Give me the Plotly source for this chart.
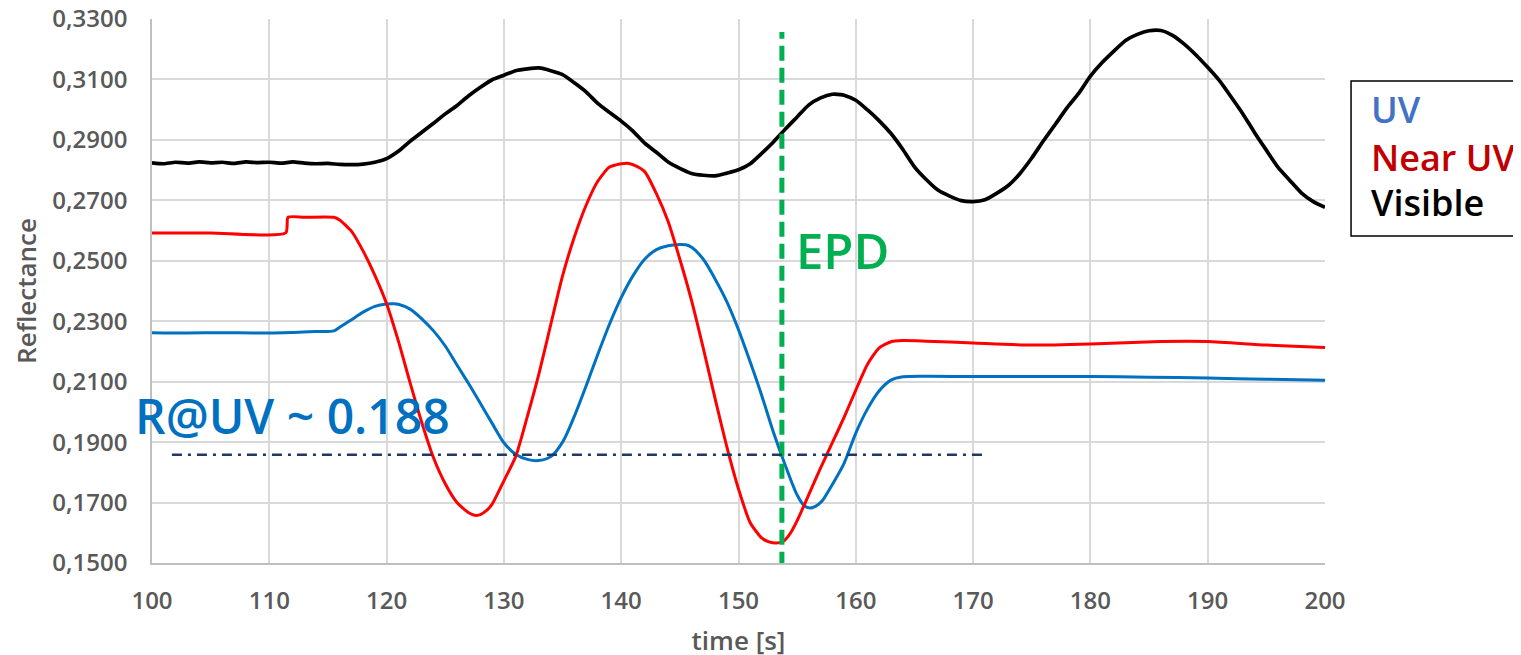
import plotly.graph_objects as go

# ---------------- data ----------------
uv_t = [100, 103, 106, 109, 112, 114, 115.5, 116, 117, 118, 119, 120, 120.6, 121,
        122, 123, 124, 125, 126, 127, 128, 129, 130, 131, 132, 132.9, 134, 135,
        136, 137, 138, 139, 140, 141, 142, 143, 144, 145, 145.5, 146, 147, 148,
        149, 150, 151, 152, 153, 154, 155, 155.6, 156.1, 156.6, 157.1, 158, 159,
        160, 161, 162, 163, 164, 166, 170, 175, 180, 185, 190, 195, 200]
uv_r = [0.2262, 0.2261, 0.2262, 0.2261, 0.2263, 0.2266, 0.2268, 0.2280, 0.2305,
        0.2330, 0.2349, 0.2357, 0.2358, 0.2356, 0.2340, 0.2308, 0.2268, 0.2218,
        0.2155, 0.2093, 0.2028, 0.1962, 0.1898, 0.1860, 0.1843, 0.1839, 0.1852,
        0.1900, 0.1985, 0.2085, 0.2190, 0.2290, 0.2378, 0.2450, 0.2505, 0.2537,
        0.2550, 0.2554, 0.2553, 0.2545, 0.2505, 0.2440, 0.2365, 0.2272, 0.2165,
        0.2052, 0.1930, 0.1822, 0.1725, 0.1690, 0.1682, 0.1688, 0.1704, 0.1760,
        0.1830, 0.1930, 0.2010, 0.2070, 0.2105, 0.2116, 0.2118, 0.2117, 0.2117,
        0.2117, 0.2115, 0.2112, 0.2108, 0.2105]

nuv_t = [100, 105, 111.4, 111.6, 113, 115.5, 116, 117, 118, 119, 120, 121, 122,
         123, 124, 125, 126, 127, 127.5, 128, 128.5, 129, 130, 131, 132, 133, 134,
         135, 136, 137, 138, 139, 140, 140.5, 141, 142, 143, 144, 145, 146, 147,
         148, 149, 150, 151, 152, 152.6, 153.2, 153.8, 154.4, 155, 156, 157, 158,
         159, 160, 161, 162, 163, 164, 166, 170, 175, 180, 186, 190, 195, 200]
nuv_r = [0.2592, 0.2592, 0.2592, 0.2644, 0.2644, 0.2644, 0.2635, 0.2598, 0.2532,
         0.2452, 0.2358, 0.2235, 0.2097, 0.1965, 0.1848, 0.1762, 0.1700, 0.1666,
         0.1658, 0.1660, 0.1673, 0.1695, 0.1772, 0.1852, 0.1985, 0.2128, 0.2290,
         0.2450, 0.2578, 0.2683, 0.2763, 0.2810, 0.2821, 0.2823, 0.2818, 0.2795,
         0.2722, 0.2630, 0.2505, 0.2368, 0.2210, 0.2045, 0.1885, 0.1745, 0.1633,
         0.1582, 0.1570, 0.1566, 0.1571, 0.1597, 0.1640, 0.1727, 0.1815, 0.1898,
         0.1982, 0.2072, 0.2158, 0.2212, 0.2232, 0.2236, 0.2234, 0.2228, 0.2221,
         0.2225, 0.2233, 0.2233, 0.2221, 0.2213]

vis_t = [100, 101, 102, 103, 104, 105, 106, 107, 108, 109, 110, 111, 112, 113,
         114, 115, 116, 117, 118, 119, 120, 121, 122, 123, 124, 125, 126, 127,
         128, 129, 130, 131, 132, 133, 134, 135, 136, 137, 138, 139, 140, 141,
         142, 143, 144, 145, 146, 147, 148, 149, 150, 151, 152, 153, 154, 155,
         156, 157, 158, 158.7, 159, 160, 161, 162, 163, 164, 165, 166, 167, 168,
         169, 170, 171, 172, 173, 174, 175, 176, 177, 178, 179, 180, 181, 182,
         183, 184, 185, 186, 187, 188, 189, 190, 191, 192, 193, 194, 195, 196,
         197, 198, 199, 200]
vis_r = [0.2824, 0.2821, 0.2826, 0.2823, 0.2827, 0.2824, 0.2826, 0.2822, 0.2827,
         0.2825, 0.2826, 0.2823, 0.2827, 0.2823, 0.2821, 0.2822, 0.2819, 0.2818,
         0.2820, 0.2826, 0.2838, 0.2862, 0.2895, 0.2925, 0.2955, 0.2986, 0.3014,
         0.3046, 0.3074, 0.3099, 0.3114, 0.3129, 0.3135, 0.3138, 0.3129, 0.3116,
         0.3089, 0.3059, 0.3021, 0.2991, 0.2962, 0.2929, 0.2889, 0.2859, 0.2827,
         0.2806, 0.2789, 0.2783, 0.2781, 0.2790, 0.2801, 0.2821, 0.2856, 0.2894,
         0.2936, 0.2976, 0.3016, 0.3039, 0.3051, 0.3050, 0.3048, 0.3031, 0.2999,
         0.2963, 0.2921, 0.2869, 0.2811, 0.2769, 0.2734, 0.2714, 0.2699, 0.2696,
         0.2702, 0.2723, 0.2749, 0.2789, 0.2840, 0.2897, 0.2951, 0.3006, 0.3054,
         0.3111, 0.3156, 0.3194, 0.3229, 0.3249, 0.3261, 0.3262, 0.3246, 0.3217,
         0.3181, 0.3140, 0.3096, 0.3042, 0.2986, 0.2924, 0.2866, 0.2809, 0.2766,
         0.2724, 0.2696, 0.2677]

x_ticks = [100, 110, 120, 130, 140, 150, 160, 170, 180, 190, 200]
y_ticks = [0.15, 0.17, 0.19, 0.21, 0.23, 0.25, 0.27, 0.29, 0.31, 0.33]

epd_t = 153.7
epd_r = [0.1488, 0.3257]
ruv_level = 0.1858
ruv_t = [101.7, 171.2]

# ---------------- styling ----------------
FONT = "Open Sans"
GRAY = "#595959"

fig = go.Figure()
fig.add_trace(go.Scatter(x=uv_t, y=uv_r, mode="lines", name="UV",
                         line=dict(color="#0070C0", width=3, shape="spline", smoothing=0.8)))
fig.add_trace(go.Scatter(x=nuv_t, y=nuv_r, mode="lines", name="Near UV",
                         line=dict(color="#FF0000", width=3, shape="spline", smoothing=0.6)))
fig.add_trace(go.Scatter(x=vis_t, y=vis_r, mode="lines", name="Visible",
                         line=dict(color="#000000", width=3.7, shape="spline", smoothing=0.6)))

# EPD vertical dashed line
fig.add_trace(go.Scatter(x=[epd_t, epd_t], y=epd_r, mode="lines", showlegend=False,
                         line=dict(color="#00B050", width=5, dash="15px,7px"),
                         cliponaxis=False))
# R@UV dash-dot level line
fig.add_trace(go.Scatter(x=ruv_t, y=[ruv_level, ruv_level], mode="lines", showlegend=False,
                         line=dict(color="#1F3864", width=2.5, dash="10px,6px,3px,6px")))

fig.update_layout(
    width=1521, height=655,
    margin=dict(l=144, r=204, t=11, b=100),
    plot_bgcolor="white", paper_bgcolor="white",
    separators=",.",
    showlegend=False,
    font=dict(family=FONT, color=GRAY, size=24),
)
fig.update_xaxes(
    range=[100, 200], tickvals=x_ticks, ticktext=[str(v) for v in x_ticks],
    showgrid=True, gridcolor="#D9D9D9", gridwidth=1.5,
    showline=True, linecolor="#BFBFBF", linewidth=1.5, zeroline=False,
    ticks="", ticklabelstandoff=15, automargin=False, ticklabeloverflow="allow",
    tickfont=dict(family=FONT, size=24, color=GRAY, weight=600),
    title=dict(text="time [s]", font=dict(family=FONT, size=26, color=GRAY, weight=600),
               standoff=17),
)
fig.update_yaxes(
    range=[0.15, 0.33], tickvals=y_ticks, tickformat=".4f",
    showgrid=True, gridcolor="#D9D9D9", gridwidth=1.5,
    showline=True, linecolor="#BFBFBF", linewidth=1.5, zeroline=False,
    ticks="", ticklabelstandoff=18, automargin=False, ticklabeloverflow="allow",
    tickfont=dict(family=FONT, size=24, color=GRAY, weight=600),
    title=dict(text="Reflectance", font=dict(family=FONT, size=26, color=GRAY, weight=600),
               standoff=11),
)

# Legend box (drawn manually like the reference text box)
fig.add_shape(type="rect", xref="paper", yref="paper",
              x0=1.0222, x1=1.175, y0=0.601, y1=0.886,
              line=dict(color="#000000", width=1.5), fillcolor="white")
legend_items = [("UV", "#4472C4", 0.833), ("Near UV", "#C00000", 0.746), ("Visible", "#000000", 0.662)]
for txt, col, yy in legend_items:
    fig.add_annotation(xref="paper", yref="paper", x=1.0375, y=yy, text=txt,
                       showarrow=False, xanchor="left", yanchor="middle",
                       font=dict(family=FONT, size=36, color=col, weight=600))

fig.add_annotation(xref="paper", yref="paper", x=-0.0165, y=0.272, text="R@UV ~ 0.188",
                   showarrow=False, xanchor="left", yanchor="middle",
                   font=dict(family=FONT, size=48, color="#0070C0", weight=600))
fig.add_annotation(xref="paper", yref="paper", x=0.5470, y=0.575, text="EPD",
                   showarrow=False, xanchor="left", yanchor="middle",
                   font=dict(family=FONT, size=49, color="#00B050", weight=600))

fig.write_html("out.html")
